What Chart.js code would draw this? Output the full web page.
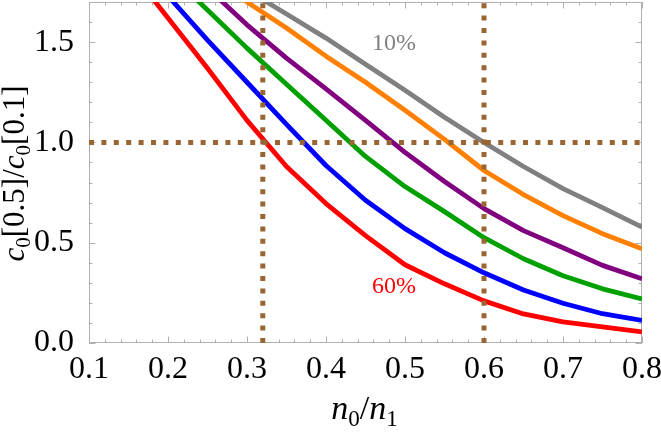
<!DOCTYPE html>
<html lang="en">
<head>
  <meta charset="UTF-8" />
  <title>c0 ratio vs n0/n1</title>
  <script src="https://cdn.jsdelivr.net/npm/chart.js"></script>
  <style>
    html, body { margin: 0; padding: 0; background: #fff; }
    canvas { display: block; }
  </style>
</head>
<body>
  <canvas id="chart" width="661" height="433"></canvas>

  <script>
    // x values (n0/n1), points every 0.05
    const xs = [0.15, 0.2, 0.25, 0.3, 0.35, 0.4, 0.45, 0.5, 0.55, 0.6, 0.65, 0.7, 0.75, 0.8];

    // c0[0.5]/c0[0.1] (null = off the top of the frame)
    const gray10   = [null, null, null, 1.76, 1.64, 1.52, 1.39, 1.26, 1.125, 1.0, 0.88, 0.77, 0.675, 0.578];
    const orange20 = [null, null, 1.84, 1.70, 1.57, 1.43, 1.30, 1.16, 1.015, 0.86, 0.74, 0.635, 0.545, 0.47];
    const purple30 = [null, null, 1.77, 1.586, 1.42, 1.267, 1.11, 0.95, 0.805, 0.67, 0.56, 0.475, 0.387, 0.32];
    const green40  = [null, 1.85, 1.66, 1.47, 1.29, 1.11, 0.93, 0.78, 0.655, 0.525, 0.42, 0.335, 0.27, 0.22];
    const blue50   = [null, 1.73, 1.51, 1.30, 1.09, 0.885, 0.712, 0.57, 0.45, 0.35, 0.264, 0.198, 0.146, 0.113];
    const red60    = [1.87, 1.62, 1.37, 1.11, 0.88, 0.695, 0.535, 0.39, 0.295, 0.21, 0.145, 0.105, 0.08, 0.055];

    // dotted guide lines
    const guideX = [0.32, 0.6];
    const guideY = [1.0];

    const xTicks = [0.1, 0.2, 0.3, 0.4, 0.5, 0.6, 0.7, 0.8];
    const yTicks = [0.0, 0.5, 1.0, 1.5];

    // curve labels
    const labelText = ['10%', '60%'];
    const labelX = [0.486, 0.486];
    const labelY = [1.492, 0.283];
    const labelColor = ['#808080', '#ff0000'];

    const SERIF = "'Liberation Serif', 'Times New Roman', serif";
    const BROWN = '#996633';

    function toPoints(arr) {
      return xs.map((x, i) => ({ x: x, y: arr[i] })).filter(p => p.y !== null);
    }

    function curve(arr, color) {
      return {
        data: toPoints(arr),
        borderColor: color,
        borderWidth: 4.8,
        pointRadius: 0,
        tension: 0,
        fill: false,
        clip: 0,
        borderJoinStyle: 'round',
        order: 2
      };
    }

    function guide(points) {
      return {
        data: points,
        borderColor: BROWN,
        borderWidth: 5,
        borderDash: [5, 7.4],
        pointRadius: 0,
        fill: false,
        clip: 0,
        order: 1
      };
    }

    const datasets = [
      ...guideX.map(x => guide([{ x: x, y: 0 }, { x: x, y: 1.7 }])),
      ...guideY.map(y => guide([{ x: 0.1, y: y }, { x: 0.8, y: y }])),
      curve(gray10, '#808080'),
      curve(orange20, '#ff8000'),
      curve(purple30, '#800080'),
      curve(green40, '#00a000'),
      curve(blue50, '#0000ff'),
      curve(red60, '#ff0000')
    ];

    // frame with inward major/minor ticks on all four sides
    const framePlugin = {
      id: 'frame',
      beforeDatasetsDraw(chart) {
        const { ctx, chartArea: a, scales: { x, y } } = chart;
        ctx.save();
        ctx.strokeStyle = '#b0b0b0';
        ctx.lineWidth = 1;
        ctx.strokeRect(a.left + 0.5, a.top + 0.5, a.right - a.left - 1, a.bottom - a.top - 1);
        ctx.beginPath();
        for (let i = 0; i <= 35; i++) {
          const v = 0.1 + i * 0.02;
          const px = Math.round(x.getPixelForValue(v)) + 0.5;
          const len = i % 5 === 0 ? 6.5 : 3.5;
          ctx.moveTo(px, a.bottom); ctx.lineTo(px, a.bottom - len);
          ctx.moveTo(px, a.top); ctx.lineTo(px, a.top + len);
        }
        for (let i = 0; i <= 17; i++) {
          const v = i * 0.1;
          const py = Math.round(y.getPixelForValue(v)) + 0.5;
          const len = i % 5 === 0 ? 6.5 : 3.5;
          ctx.moveTo(a.left, py); ctx.lineTo(a.left + len, py);
          ctx.moveTo(a.right, py); ctx.lineTo(a.right - len, py);
        }
        ctx.stroke();

        // x tick labels, baseline fixed under the frame
        ctx.fillStyle = '#000';
        ctx.font = '32px ' + SERIF;
        ctx.textAlign = 'center';
        ctx.textBaseline = 'alphabetic';
        xTicks.forEach(v => ctx.fillText(v.toFixed(1), x.getPixelForValue(v), a.bottom + 35));
        ctx.restore();
      },
      afterDatasetsDraw(chart) {
        const { ctx, scales: { x, y } } = chart;
        ctx.save();
        ctx.font = '24px ' + SERIF;
        ctx.textAlign = 'center';
        ctx.textBaseline = 'middle';
        labelText.forEach((t, i) => {
          ctx.fillStyle = labelColor[i];
          ctx.fillText(t, x.getPixelForValue(labelX[i]), y.getPixelForValue(labelY[i]));
        });
        ctx.restore();
      }
    };

    // axis titles with italic letters and subscripts
    function drawRich(ctx, parts, size) {
      const fontOf = p => (p.it ? 'italic ' : '') + (p.sub ? size * 0.68 : size) + 'px ' + SERIF;
      let w = 0;
      parts.forEach(p => { ctx.font = fontOf(p); w += ctx.measureText(p.t).width; });
      let cx = -w / 2;
      parts.forEach(p => {
        ctx.font = fontOf(p);
        ctx.fillText(p.t, cx, p.sub ? size * 0.2 : 0);
        cx += ctx.measureText(p.t).width;
      });
    }

    const titlePlugin = {
      id: 'titles',
      afterDraw(chart) {
        const { ctx, chartArea: a } = chart;
        ctx.save();
        ctx.fillStyle = '#000';
        ctx.textBaseline = 'alphabetic';
        ctx.textAlign = 'left';

        ctx.save();
        ctx.translate((a.left + a.right) / 2 - 1, 419);
        drawRich(ctx, [
          { t: 'n', it: true }, { t: '0', sub: true }, { t: '/' },
          { t: 'n', it: true }, { t: '1', sub: true }
        ], 34);
        ctx.restore();

        ctx.save();
        ctx.translate(24, (a.top + a.bottom) / 2 + 1);
        ctx.rotate(-Math.PI / 2);
        drawRich(ctx, [
          { t: 'c', it: true }, { t: '0', sub: true }, { t: '[0.5]/' },
          { t: 'c', it: true }, { t: '0', sub: true }, { t: '[0.1]' }
        ], 31);
        ctx.restore();

        ctx.restore();
      }
    };

    new Chart(document.getElementById('chart'), {
      type: 'line',
      data: { datasets: datasets },
      options: {
        responsive: false,
        animation: false,
        layout: { padding: { left: 0, right: 19, top: 2, bottom: 0 } },
        plugins: {
          legend: { display: false },
          tooltip: { enabled: false }
        },
        scales: {
          x: {
            type: 'linear',
            min: 0.1,
            max: 0.8,
            border: { display: false },
            grid: { display: false, drawTicks: false },
            afterBuildTicks: s => { s.ticks = xTicks.map(v => ({ value: v })); },
            ticks: { display: false },
            afterFit: s => { s.height = 90; s.paddingLeft = 0; s.paddingRight = 0; }
          },
          y: {
            type: 'linear',
            min: 0,
            max: 1.7,
            border: { display: false },
            grid: { display: false },
            afterBuildTicks: s => { s.ticks = yTicks.map(v => ({ value: v })); },
            ticks: {
              padding: 7,
              color: '#000',
              font: { family: SERIF, size: 32 },
              callback: v => v.toFixed(1)
            },
            afterFit: s => { s.width = 89; s.paddingTop = 0; s.paddingBottom = 0; }
          }
        }
      },
      plugins: [framePlugin, titlePlugin]
    });
  </script>
</body>
</html>
